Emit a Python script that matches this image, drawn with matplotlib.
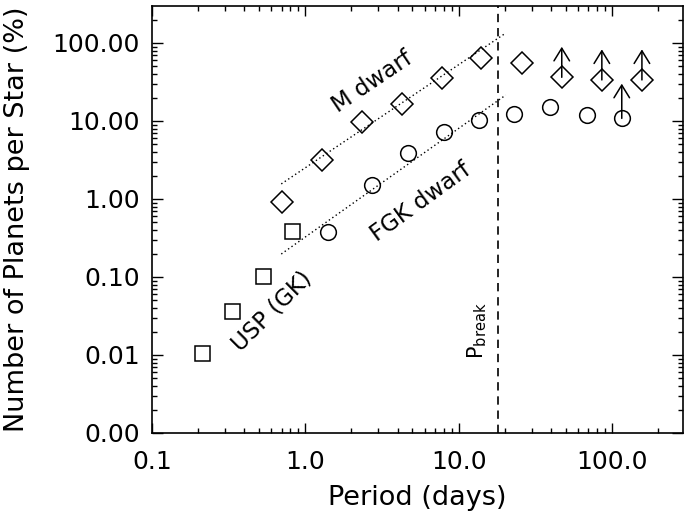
import matplotlib
matplotlib.use("Agg")
import matplotlib.pyplot as plt
from matplotlib.ticker import LogLocator, NullFormatter
from matplotlib.transforms import offset_copy

# ---------------- data ----------------
usp_period = [0.213, 0.335, 0.526, 0.82]
usp_rate = [0.0107, 0.0366, 0.103, 0.39]

m_period = [0.705, 1.29, 2.35, 4.29, 7.74, 14.1, 25.8, 47.1, 86.0, 157.0]
m_rate = [0.91, 3.16, 9.8, 16.5, 35.9, 63.7, 55.0, 36.3, 33.6, 33.6]
m_lower_limit = [False, False, False, False, False, False, False, True, True, True]

fgk_period = [1.40, 2.73, 4.66, 8.0, 13.6, 23.0, 39.5, 68.4, 116.0]
fgk_rate = [0.374, 1.51, 3.85, 7.3, 10.3, 12.2, 15.2, 11.9, 10.8]
fgk_lower_limit = [False, False, False, False, False, False, False, False, True]

m_fit_period = [0.697, 20.3]
m_fit_rate = [1.56, 134.0]
fgk_fit_period = [0.697, 20.3]
fgk_fit_rate = [0.197, 21.5]

p_break = 18.0

xticks = [0.1, 1.0, 10.0, 100.0]
xticklabels = ["0.1", "1.0", "10.0", "100.0"]
yticks = [0.001, 0.01, 0.1, 1.0, 10.0, 100.0]
yticklabels = ["0.00", "0.01", "0.10", "1.00", "10.00", "100.00"]

# ---------------- figure ----------------
plt.rcParams['font.family'] = ['DejaVu Sans']
fig = plt.figure(figsize=(6.85, 5.15), dpi=100)
ax = fig.add_axes([152 / 685, (515 - 433) / 515, (683 - 152) / 685, (433 - 6) / 515])
ax.set_xscale('log')
ax.set_yscale('log')
ax.set_xlim(0.1, 291)
ax.set_ylim(0.001, 298)

lw = 1.1
ax.plot(m_fit_period, m_fit_rate, ls=(0, (1, 2)), color='black', lw=1.0)
ax.plot(fgk_fit_period, fgk_fit_rate, ls=(0, (1, 2)), color='black', lw=1.0)

ax.plot(usp_period, usp_rate, ls='none', marker='s', ms=10.8, mfc='none', mec='black', mew=lw)
ax.plot(m_period, m_rate, ls='none', marker='D', ms=11.5, mfc='none', mec='black', mew=lw)
ax.plot(fgk_period, fgk_rate, ls='none', marker='o', ms=11.3, mfc='none', mec='black', mew=lw)

arrow_style = '->,head_length=0.65,head_width=0.4'


def up_arrow(p, r, length_pt):
    ax.annotate('', xy=(p, r), xycoords=offset_copy(ax.transData, fig=fig, x=0, y=length_pt, units='points'),
                xytext=(p, r), textcoords='data',
                arrowprops=dict(arrowstyle=arrow_style, color='black', lw=1.1,
                                shrinkA=0, shrinkB=0, mutation_scale=14))


for p, r, lim in zip(m_period, m_rate, m_lower_limit):
    if lim:
        up_arrow(p, r, 22)
for p, r, lim in zip(fgk_period, fgk_rate, fgk_lower_limit):
    if lim:
        up_arrow(p, r, 25)

ax.axvline(p_break, color='black', lw=1.2, ls=(0, (5, 3.5)))

# annotations
ax.text(2.76, 32, 'M dwarf', rotation=34, fontsize=16.5, ha='center', va='center')
ax.text(5.65, 0.92, 'FGK dwarf', rotation=36, fontsize=16.5, ha='center', va='center')
ax.text(0.604, 0.0366, 'USP (GK)', rotation=45, fontsize=16.5, ha='center', va='center')
ax.text(13.3, 0.0203, r'P$_{\rm break}$', rotation=90, fontsize=15, ha='center', va='center')

# axes styling
ax.set_xticks(xticks)
ax.set_xticklabels(xticklabels)
ax.set_yticks(yticks)
ax.set_yticklabels(yticklabels)
ax.xaxis.set_minor_locator(LogLocator(base=10, subs=range(2, 10), numticks=20))
ax.yaxis.set_minor_locator(LogLocator(base=10, subs=range(2, 10), numticks=20))
ax.xaxis.set_minor_formatter(NullFormatter())
ax.yaxis.set_minor_formatter(NullFormatter())
ax.tick_params(which='both', direction='in', top=True, right=True, width=1.0, labelsize=18)
ax.tick_params(axis='x', which='major', length=7.5, pad=12)
ax.tick_params(axis='y', which='major', length=8, pad=9)
ax.tick_params(which='minor', length=3.5)
for s in ax.spines.values():
    s.set_linewidth(1.2)

ax.set_xlabel('Period (days)', fontsize=19.5)
ax.set_ylabel('Number of Planets per Star (%)', fontsize=19.5)
ax.xaxis.set_label_coords((417 - 152) / (683 - 152), -(498 - 433) / (433 - 6), transform=ax.transAxes)
ax.yaxis.set_label_coords(-(152 - 17) / (683 - 152), 0.5, transform=ax.transAxes)
ax.xaxis.label.set_va('center')
ax.yaxis.label.set_va('center')

fig.savefig('out.png', dpi=100)
